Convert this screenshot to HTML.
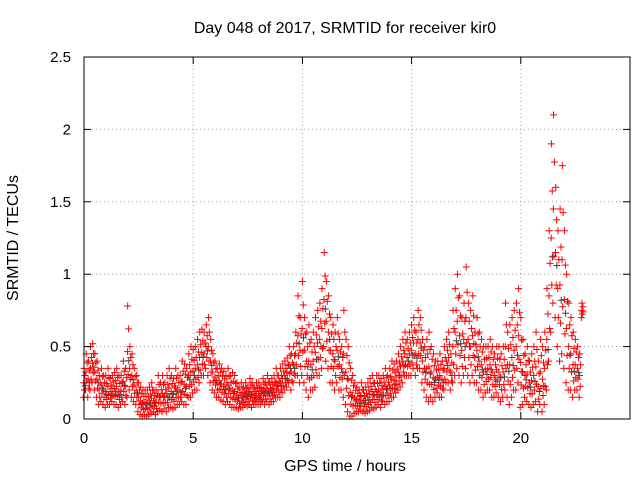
<!DOCTYPE html>
<html><head><meta charset="utf-8"><style>
body{margin:0;background:#fff}
svg text{font-family:"Liberation Sans",sans-serif;font-size:15px;fill:#000}
</style></head><body>
<svg id="c" width="640" height="480" xmlns="http://www.w3.org/2000/svg">
<text x="345" y="33" text-anchor="middle" style="font-size:16px">Day 048 of 2017, SRMTID for receiver kir0</text>
<text x="345" y="471" text-anchor="middle" style="font-size:16px">GPS time / hours</text>
<text transform="translate(18,238) rotate(-90)" text-anchor="middle" style="font-size:16px">SRMTID / TECUs</text>
<g id="grid"></g><g id="marks"></g>
<rect x="84" y="57" width="546" height="362" fill="none" stroke="#000"/>
<g id="axes"></g>
</svg>
<script>
const xTicks=[0,5,10,15,20];
const yTicks=[0,0.5,1,1.5,2,2.5];
const yTickLabels=["0","0.5","1","1.5","2","2.5"];
const startHour=0, stepHour=0.1;
const hiValues=[.35,.45,.4,.5,.52,.45,.4,.3,.35,.3,
.3,.35,.28,.3,.32,.35,.3,.3,.4,.35,
.78,.5,.45,.35,.3,.25,.22,.2,.2,.2,
.22,.25,.2,.2,.3,.25,.3,.25,.3,.35,
.3,.28,.35,.3,.3,.4,.38,.35,.45,.5,
.48,.5,.55,.6,.62,.6,.65,.7,.55,.45,
.4,.35,.38,.35,.33,.3,.35,.3,.32,.3,
.25,.22,.25,.22,.25,.22,.28,.25,.22,.25,
.25,.22,.28,.25,.3,.25,.28,.3,.35,.3,
.35,.38,.4,.42,.5,.45,.5,.6,.85,.7,
.95,.7,.6,.65,.55,.6,.7,.75,.8,.9,
1.15,.95,.85,.7,.65,.6,.7,.55,.5,.75,
.55,.5,.35,.3,.25,.22,.2,.25,.2,.22,
.25,.28,.3,.25,.3,.3,.28,.3,.35,.3,
.35,.4,.38,.4,.45,.5,.55,.6,.55,.6,
.65,.7,.6,.75,.7,.55,.5,.55,.6,.5,
.45,.4,.4,.45,.4,.5,.55,.6,.45,.75,
.9,1.0,.85,.7,.8,1.05,.8,.75,.85,.6,
.7,.6,.55,.5,.5,.5,.55,.5,.45,.5,
.5,.45,.5,.8,.6,.65,.7,.75,.8,.9,
.7,.55,.45,.5,.4,.45,.5,.6,.4,.55,
.5,.6,.9,1.3,1.9,2.1,1.6,1.3,1.45,1.75,
1.3,1.0,.8,.7,.6,.55,.5,.45,.8];
const loValues=[.15,.2,.15,.2,.25,.2,.15,.1,.12,.1,
.08,.1,.1,.12,.1,.1,.08,.1,.12,.1,
.15,.2,.15,.12,.1,.05,.03,.02,.03,.02,
.03,.04,.05,.03,.05,.06,.05,.07,.05,.08,
.08,.07,.08,.1,.1,.12,.1,.1,.15,.15,
.18,.2,.2,.25,.3,.3,.35,.3,.25,.2,
.18,.15,.15,.13,.12,.1,.12,.1,.08,.08,
.08,.07,.08,.08,.1,.09,.1,.08,.1,.1,
.1,.1,.12,.1,.12,.1,.12,.12,.15,.15,
.15,.18,.2,.22,.25,.2,.25,.3,.3,.25,
.3,.25,.2,.15,.2,.2,.22,.3,.3,.35,
.5,.4,.35,.25,.25,.2,.25,.2,.2,.15,
.1,.05,.02,.02,.04,.05,.05,.06,.05,.04,
.05,.06,.08,.07,.08,.1,.08,.12,.1,.12,
.12,.15,.15,.18,.2,.22,.25,.3,.3,.3,
.3,.35,.3,.35,.35,.25,.2,.15,.12,.15,
.12,.15,.18,.15,.15,.2,.25,.25,.2,.25,
.3,.35,.3,.25,.3,.35,.3,.25,.3,.25,
.25,.2,.2,.15,.18,.2,.2,.15,.15,.18,
.15,.12,.15,.2,.15,.1,.15,.2,.2,.25,
.08,.1,.15,.12,.1,.08,.1,.12,.05,.1,
.05,.1,.2,.4,.6,.8,.7,.5,.4,.45,
.35,.25,.2,.2,.15,.2,.2,.15,.7];
const NS="http://www.w3.org/2000/svg";
const X=h=>84+h*(546/25), Y=v=>419-v*(362/2.5);
const grid=document.getElementById('grid'),axes=document.getElementById('axes'),marks=document.getElementById('marks');
function mk(tag,a,p){const e=document.createElementNS(NS,tag);for(const k in a)e.setAttribute(k,a[k]);p.appendChild(e);return e;}
xTicks.forEach(t=>{
  const g=mk('line',{x1:X(t),x2:X(t),y1:57,y2:419,stroke:'#a0a0a0','stroke-dasharray':'1,3'},grid);
  
  
  mk('line',{x1:X(t),x2:X(t),y1:419,y2:412,stroke:'#000'},axes);
  mk('line',{x1:X(t),x2:X(t),y1:57,y2:64,stroke:'#000'},axes);
  const l=mk('text',{x:X(t),y:443,'text-anchor':'middle'},axes);l.textContent=t;
  
  
});
yTicks.forEach((t,i)=>{
  const g=mk('line',{x1:84,x2:630,y1:Y(t),y2:Y(t),stroke:'#a0a0a0','stroke-dasharray':'1,3'},grid);
  
  
  mk('line',{x1:84,x2:91,y1:Y(t),y2:Y(t),stroke:'#000'},axes);
  mk('line',{x1:630,x2:623,y1:Y(t),y2:Y(t),stroke:'#000'},axes);
  const l=mk('text',{x:71,y:Y(t)+5,'text-anchor':'end'},axes);l.textContent=yTickLabels[i];
  
  
});
function plus(x,y,col){
  const p=mk('path',{d:`M${x-3.5},${y}h7M${x},${y-3.5}v7`,stroke:col,'stroke-width':1},marks);
  
  
}
const fr=[0,0.25,0.5,0.75,1],dx=[-0.03,0.02,-0.01,0.04,0.0];
hiValues.forEach((hi,i)=>{
  const lo=loValues[i],h=startHour+i*stepHour;
  if(i%2===0) plus(X(h+0.05),Y(lo+(hi-lo)*0.4),'#404040');
  fr.forEach((f,j)=>plus(X(h+dx[j]),Y(lo+(hi-lo)*f),'#ff0000'));
});
</script>
</body></html>
